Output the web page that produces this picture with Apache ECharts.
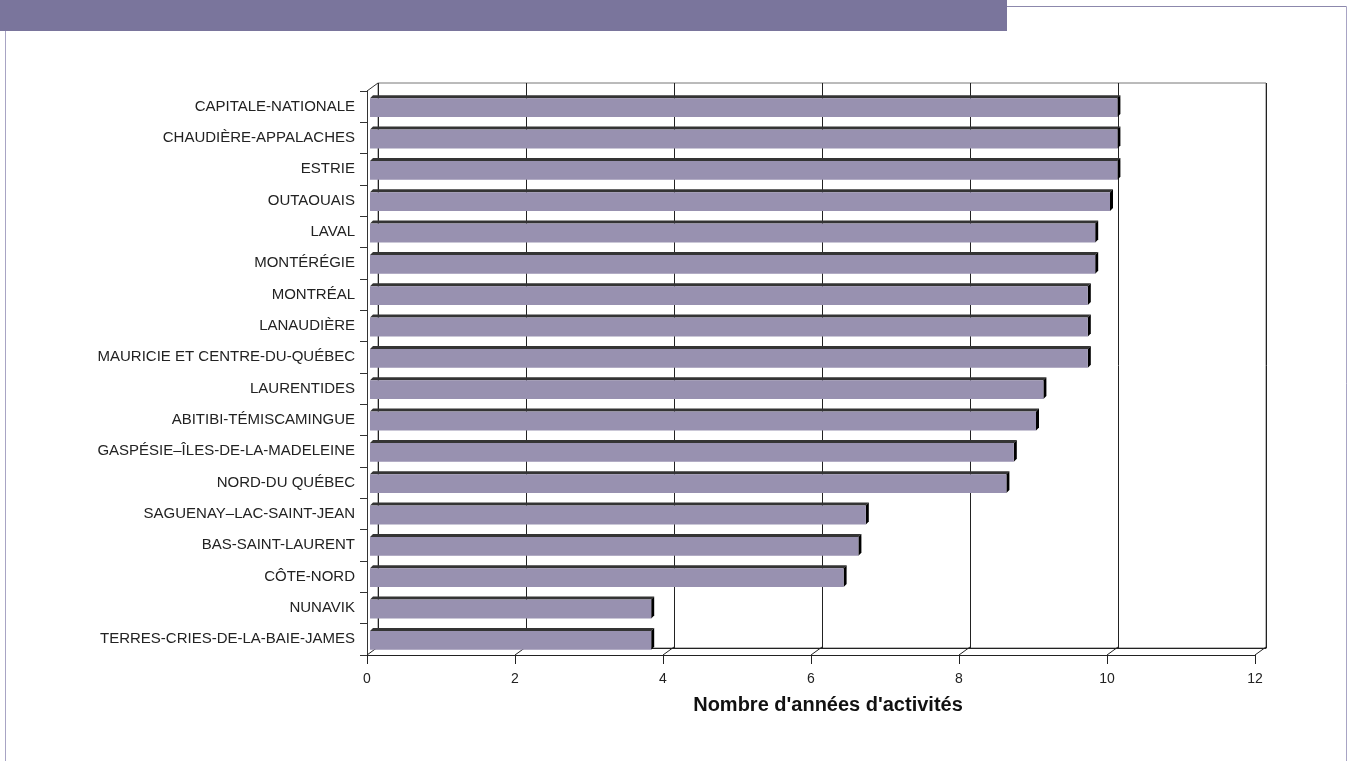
<!DOCTYPE html>
<html>
<head>
<meta charset="utf-8">
<script src="https://cdn.jsdelivr.net/npm/echarts@6/dist/echarts.min.js"></script>
<style>
  html, body { margin: 0; padding: 0; background: #fff; }
  #chart { width: 1349px; height: 761px; }
</style>
</head>
<body>
<div id="chart"></div>
<script>
// regions, top to bottom
const regions = [
  'CAPITALE-NATIONALE', 'CHAUDIÈRE-APPALACHES', 'ESTRIE', 'OUTAOUAIS', 'LAVAL',
  'MONTÉRÉGIE', 'MONTRÉAL', 'LANAUDIÈRE', 'MAURICIE ET CENTRE-DU-QUÉBEC',
  'LAURENTIDES', 'ABITIBI-TÉMISCAMINGUE', 'GASPÉSIE–ÎLES-DE-LA-MADELEINE',
  'NORD-DU QUÉBEC', 'SAGUENAY–LAC-SAINT-JEAN', 'BAS-SAINT-LAURENT', 'CÔTE-NORD',
  'NUNAVIK', 'TERRES-CRIES-DE-LA-BAIE-JAMES'
];
// years of activity
const years = [10.1, 10.1, 10.1, 10.0, 9.8, 9.8, 9.7, 9.7, 9.7, 9.1, 9.0, 8.7, 8.6, 6.7, 6.6, 6.4, 3.8, 3.8];
const xTicks = [0, 2, 4, 6, 8, 10, 12];
const axisTitle = "Nombre d'années d'activités";

const FONT = '"Liberation Sans", Arial, sans-serif';
const DX = 11, DY = -8;   // depth offset of the back wall
const D = 3;              // bar depth

const chart = echarts.init(document.getElementById('chart'), null, { renderer: 'canvas' });

// 3D-looking horizontal bar
function renderBar(params, api) {
  const idx = api.value(1);
  const start = api.coord([0, idx]);
  const end = api.coord([api.value(0), idx]);
  const h = api.size([0, 1])[1] * 0.6;
  const x = start[0] + 3;
  const w = end[0] - start[0];
  const top = start[1] - h / 2 + 1;
  return {
    type: 'group',
    children: [
      { type: 'polygon', shape: { points: [[x, top], [x + D, top - D], [x + w + D, top - D], [x + w, top]] },
        style: { fill: '#343434' } },
      { type: 'polygon', shape: { points: [[x + w, top], [x + w + D, top - D], [x + w + D, top + h - D], [x + w, top + h]] },
        style: { fill: '#000' } },
      { type: 'rect', shape: { x: x, y: top, width: w, height: h },
        style: { fill: '#9891b0' } }
    ]
  };
}

// floor diagonals joining front ticks to back wall
function renderFloor(params, api) {
  const cs = params.coordSys;
  const px = api.coord([api.value(0), 0])[0];
  const by = cs.y + cs.height;
  const lines = [
    { type: 'line', shape: { x1: px, y1: by, x2: px + DX, y2: by + DY },
      style: { stroke: '#222', lineWidth: 1 } }
  ];
  if (api.value(0) === 0) {
    lines.push({ type: 'line', shape: { x1: cs.x, y1: cs.y, x2: cs.x + DX, y2: cs.y + DY },
      style: { stroke: '#333', lineWidth: 1 } });
  }
  return { type: 'group', children: lines };
}

const option = {
  animation: false,
  backgroundColor: '#fff',
  grid: [
    { left: 367, top: 91, right: 94, bottom: 106 },
    { left: 378, top: 83, right: 83, bottom: 113, show: true, borderColor: '#777', borderWidth: 1 }
  ],
  xAxis: [
    {
      gridIndex: 0, type: 'value', min: 0, max: 12, interval: 2,
      axisLine: { show: true, lineStyle: { color: '#222', width: 1 } },
      axisTick: { show: true, length: 9, lineStyle: { color: '#222' } },
      axisLabel: { color: '#222', fontSize: 14, fontFamily: FONT, margin: 17 },
      splitLine: { show: false }
    },
    {
      gridIndex: 1, type: 'value', min: 0, max: 12, interval: 2,
      axisLine: { show: true, lineStyle: { color: '#222' } },
      axisTick: { show: false },
      axisLabel: { show: false },
      splitLine: { show: true, lineStyle: { color: '#222', width: 1 } }
    }
  ],
  yAxis: [
    {
      gridIndex: 0, type: 'category', data: regions, inverse: true,
      axisLine: { show: true, lineStyle: { color: '#333', width: 1 } },
      axisTick: { show: true, length: 7, lineStyle: { color: '#333' } },
      axisLabel: { color: '#222', fontSize: 15, fontFamily: FONT, margin: 12 }
    },
    {
      gridIndex: 1, type: 'category', data: regions, inverse: true,
      axisLine: { show: false }, axisTick: { show: false }, axisLabel: { show: false }
    }
  ],
  series: [
    {
      type: 'custom', xAxisIndex: 0, yAxisIndex: 0,
      renderItem: renderFloor,
      data: xTicks.map(v => [v]),
      silent: true, z: 1
    },
    {
      type: 'custom', xAxisIndex: 0, yAxisIndex: 0,
      renderItem: renderBar,
      data: years.map((v, i) => [v, i]),
      z: 3
    }
  ],
  graphic: [
    { type: 'rect', shape: { x: 0, y: 0, width: 1007, height: 31 }, style: { fill: '#7a759c' }, z: 10 },
    { type: 'line', shape: { x1: 1007, y1: 6.5, x2: 1346.5, y2: 6.5 }, style: { stroke: '#8c88ac', lineWidth: 1 } },
    { type: 'line', shape: { x1: 1346.5, y1: 6.5, x2: 1346.5, y2: 761 }, style: { stroke: '#a8a4c4', lineWidth: 1 } },
    { type: 'line', shape: { x1: 5.5, y1: 31, x2: 5.5, y2: 761 }, style: { stroke: '#a8a4c4', lineWidth: 1 } },
    {
      type: 'text', x: 828, y: 705,
      style: { text: axisTitle, fill: '#111', font: 'bold 20px ' + FONT, textAlign: 'center', textVerticalAlign: 'middle' }
    }
  ]
};

chart.setOption(option);
</script>
</body>
</html>
